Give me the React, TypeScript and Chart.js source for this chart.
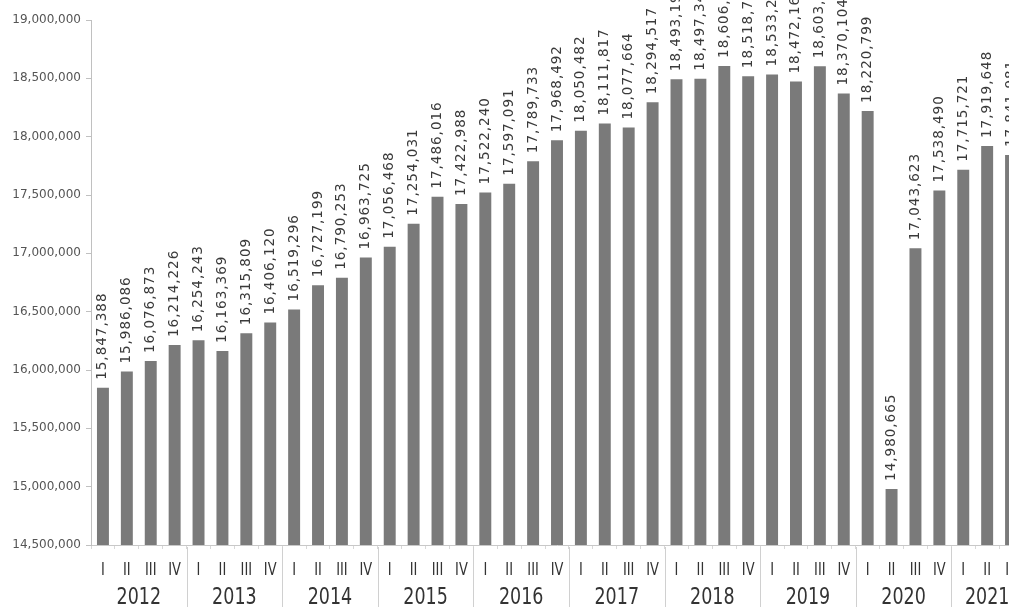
import React, { useEffect, useRef } from "react";
import { Chart, registerables } from "chart.js";

Chart.register(...registerables);

const years = ["2012", "2013", "2014", "2015", "2016", "2017", "2018", "2019", "2020", "2021"];
const quarters = ["I", "II", "III", "IV"];

const values2012 = [15847388, 15986086, 16076873, 16214226];
const values2013 = [16254243, 16163369, 16315809, 16406120];
const values2014 = [16519296, 16727199, 16790253, 16963725];
const values2015 = [17056468, 17254031, 17486016, 17422988];
const values2016 = [17522240, 17597091, 17789733, 17968492];
const values2017 = [18050482, 18111817, 18077664, 18294517];
const values2018 = [18493194, 18497342, 18606215, 18518736];
const values2019 = [18533218, 18472163, 18603412, 18370104];
const values2020 = [18220799, 14980665, 17043623, 17538490];
const values2021 = [17715721, 17919648, 17841981];

const yTicksMin = 14500000;
const yTicksMax = 19000000;
const yTickStep = 500000;

const series = [
  values2012, values2013, values2014, values2015, values2016,
  values2017, values2018, values2019, values2020, values2021,
];

const labels: string[] = [];
const yearOf: string[] = [];
const data: number[] = [];
series.forEach((arr, yi) => {
  arr.forEach((v, qi) => {
    labels.push(quarters[qi]);
    yearOf.push(years[yi]);
    data.push(v);
  });
});

const FONT = "'DejaVu Sans', Verdana, sans-serif";
const fmt = (v: number) => v.toLocaleString("en-US");

export default function App() {
  const ref = useRef<HTMLCanvasElement | null>(null);

  useEffect(() => {
    if (!ref.current) return;
    document.body.style.margin = "0";

    const labelPlugin = {
      id: "barLabels",
      afterDatasetsDraw(chart: any) {
        const ctx = chart.ctx;
        const meta = chart.getDatasetMeta(0);
        ctx.save();
        ctx.font = `13.5px ${FONT}`;
        (ctx as any).letterSpacing = "1px";
        ctx.fillStyle = "#3a3a3a";
        ctx.textAlign = "left";
        ctx.textBaseline = "middle";
        meta.data.forEach((bar: any, i: number) => {
          ctx.save();
          ctx.translate(bar.x, bar.y - 8);
          ctx.rotate(-Math.PI / 2);
          ctx.fillText(fmt(data[i]), 0, 0);
          ctx.restore();
        });
        (ctx as any).letterSpacing = "0px";
        ctx.restore();
      },
      afterDraw(chart: any) {
        const ctx = chart.ctx;
        const xs = chart.scales.x;
        const area = chart.chartArea;
        const n = labels.length;
        const catW = (area.right - area.left) / n;
        ctx.save();
        ctx.fillStyle = "#333";
        ctx.textAlign = "center";
        ctx.textBaseline = "middle";
        ctx.font = `13px ${FONT}`;
        for (let i = 0; i < n; i++) {
          const x = xs.getPixelForValue(i);
          ctx.save();
          ctx.translate(x, area.bottom + 25);
          ctx.scale(1, 1.35);
          ctx.fillText(labels[i], 0, 0);
          ctx.restore();
        }
        ctx.font = `17.5px ${FONT}`;
        let start = 0;
        for (let i = 1; i <= n; i++) {
          if (i === n || yearOf[i] !== yearOf[start]) {
            const x0 = xs.getPixelForValue(start) - catW / 2;
            const x1 = xs.getPixelForValue(i - 1) + catW / 2;
            ctx.save();
            ctx.translate((x0 + x1) / 2, area.bottom + 53);
            ctx.scale(1, 1.3);
            ctx.fillText(yearOf[start], 0, 0);
            ctx.restore();
            if (i < n) {
              ctx.strokeStyle = "#d0d0d0";
              ctx.lineWidth = 1;
              ctx.beginPath();
              ctx.moveTo(Math.round(x1) + 0.5, area.bottom + 2);
              ctx.lineTo(Math.round(x1) + 0.5, chart.height);
              ctx.stroke();
            }
            start = i;
          }
        }
        ctx.restore();
      },
    };

    const chart = new Chart(ref.current, {
      type: "bar",
      data: {
        labels,
        datasets: [
          {
            data,
            backgroundColor: "#7a7a7a",
            borderWidth: 0,
            categoryPercentage: 1,
            barPercentage: 0.5,
          },
        ],
      },
      options: {
        responsive: false,
        animation: false,
        devicePixelRatio: 1,
        layout: { padding: { top: 20, right: 1, left: 0, bottom: 0 } },
        plugins: {
          legend: { display: false },
          tooltip: { enabled: false },
          title: { display: false },
        },
        scales: {
          x: {
            offset: true,
            ticks: { display: false },
            grid: {
              offset: true,
              drawOnChartArea: false,
              drawTicks: true,
              tickLength: 4,
              color: "#d8d8d8",
            },
            border: { display: true, color: "#c8c8c8" },
            afterFit: (s: any) => {
              s.height = 62;
            },
          },
          y: {
            min: yTicksMin,
            max: yTicksMax,
            ticks: {
              stepSize: yTickStep,
              callback: (v: any) => fmt(Number(v)),
              font: { family: FONT, size: 12 },
              color: "#555",
              padding: 5,
            },
            grid: {
              drawOnChartArea: false,
              drawTicks: true,
              tickLength: 5,
              color: "#c0c0c0",
            },
            border: { display: true, color: "#c0c0c0" },
            afterFit: (s: any) => {
              s.width = 91;
            },
          },
        },
      },
      plugins: [labelPlugin],
    });
    return () => chart.destroy();
  }, []);

  return (
    <div
      style={{
        position: "fixed",
        left: 0,
        top: 0,
        width: 1009,
        height: 607,
        overflow: "hidden",
        background: "#fff",
      }}
    >
      <canvas ref={ref} width={1024} height={607} style={{ display: "block" }} />
    </div>
  );
}
